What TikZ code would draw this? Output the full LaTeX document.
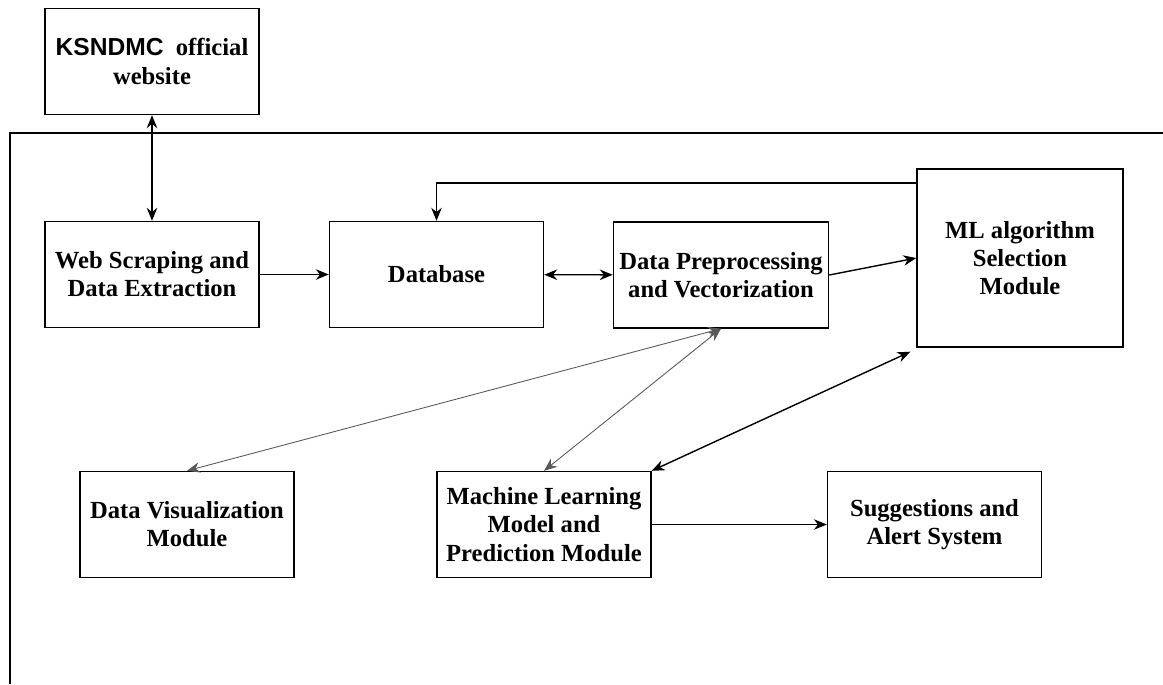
\documentclass[tikz,border=0pt]{standalone}
\usepackage{fontspec}
\setmainfont{Liberation Serif}
\newfontfamily\sansbf{Liberation Sans}
\usepackage{tikz}
\usetikzlibrary{shapes.geometric, arrows, arrows.meta}
\tikzstyle{block} = [rectangle, draw, line width=0.8pt, align=center,
	minimum width=4.28cm, minimum height=2.12cm, font=\fontsize{14}{16}\selectfont\bfseries]
\tikzstyle{arrow} = [line width=0.8pt,->,>={Stealth[length=2.6mm,width=2.1mm]}]
\tikzstyle{thinarrow} = [line width=0.5pt,black!65,->,>={Stealth[length=2.6mm,width=2.1mm]}]

\begin{document}
\begin{tikzpicture}[x=0.02cm,y=-0.02cm]
	\useasboundingbox (0,0) rectangle (1163,684);
	% outer frame
	\draw[line width=0.8pt] (10,684) -- (10,133) -- (1163,133);
	
	\node[block] (ksndmc) at (152,61.5) {{\sansbf KSNDMC}\ \ official\\website};
	\node[block] (web) at (152,274.5) {Web Scraping and\\Data Extraction};
	\node[block] (db) at (436.5,274.5) {Database};
	\node[block] (prep) at (721,275) {Data Preprocessing\\and Vectorization};
	\node[block, minimum width=4.12cm, minimum height=3.56cm] (mlsel) at (1020,258) {ML algorithm\\Selection\\Module};
	\node[block] (viz) at (187,524.5) {Data Visualization\\Module};
	\node[block] (model) at (544,524.5) {Machine Learning\\Model and\\Prediction Module};
	\node[block] (alert) at (934.5,524.5) {Suggestions and\\Alert System};
	
	\coordinate (fb) at (917,183);
	
	\draw[arrow,<->] (ksndmc.south) -- (web.north);
	\draw[arrow] (web) -- (db);
	\draw[arrow,<->] (db) -- (prep);
	\draw[arrow] (prep.east) -- (mlsel.west);
	\draw[arrow] (fb) -| (db.north);
	\draw[thinarrow,<->] (prep.south) -- (viz.north);
	\draw[thinarrow,<->] (prep.south) -- (model.north);
	\draw[arrow,<->] ([xshift=-0.12cm,yshift=-0.08cm]mlsel.south west) -- (model.north east);
	\draw[arrow] (model) -- (alert);
\end{tikzpicture}
\end{document}
